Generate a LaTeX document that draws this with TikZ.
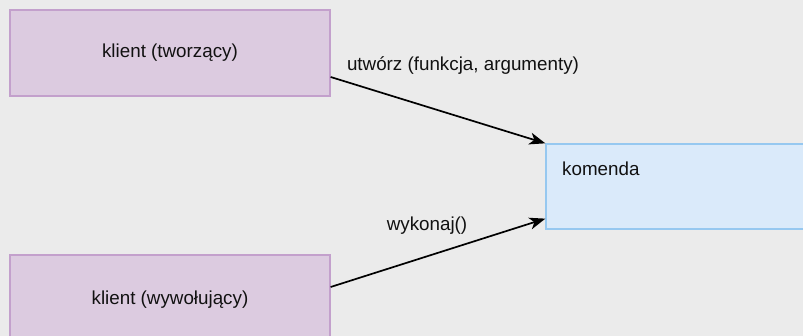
\documentclass[tikz,border=0pt]{standalone}
\usepackage{fontspec}
\setmainfont{Liberation Sans}
\usetikzlibrary{arrows.meta}
\definecolor{bg}{HTML}{EBEBEB}
\definecolor{clientfill}{HTML}{DCCBE0}
\definecolor{clientline}{HTML}{C3A0CC}
\definecolor{cmdfill}{HTML}{DAEAFA}
\definecolor{cmdline}{HTML}{96C8F0}
\definecolor{ink}{HTML}{111111}
\tikzset{
  x=1pt, y=1pt,
  every node/.style={font=\fontsize{18.8}{22}\selectfont, text=ink},
  client/.style={draw=clientline, fill=clientfill, line width=1.3pt,
    minimum width=320pt, minimum height=86pt, inner sep=0pt},
  cmdbox/.style={draw=cmdline, fill=cmdfill, line width=1.3pt,
    minimum width=320pt, minimum height=85pt, inner sep=0pt},
  call/.style={draw=black, line width=1.7pt,
    -{Stealth[length=16pt, width=12pt, inset=4.5pt]}},
  msg/.style={inner sep=0pt}
}
\begin{document}
\begin{tikzpicture}
  \fill[bg] (0,0) rectangle (803,336);
  \useasboundingbox (0,0) rectangle (803,336);
  \clip (0,0) rectangle (803,336);

  % participants
  \node[client] (creator) at (170,283) {klient (tworzący)};
  \node[client] (invoker) at (170,38) {};
  \node[msg] (invokertxt) at (170,36) {klient (wywołujący)};
  \node[cmdbox] (cmd) at (706,149.5) {};
  \node[msg, anchor=west] (cmdtxt) at (562,167) {komenda};

  % messages
  \draw[call] ([yshift=-24pt]creator.east) -- (cmd.north west);
  \draw[call] ([yshift=11pt]invoker.east) -- ([yshift=11pt]cmd.south west);

  \node[msg] (createlbl) at (463,270) {utwórz (funkcja, argumenty)};
  \node[msg] (execlbl) at (427,110) {wykonaj()};
\end{tikzpicture}
\end{document}
